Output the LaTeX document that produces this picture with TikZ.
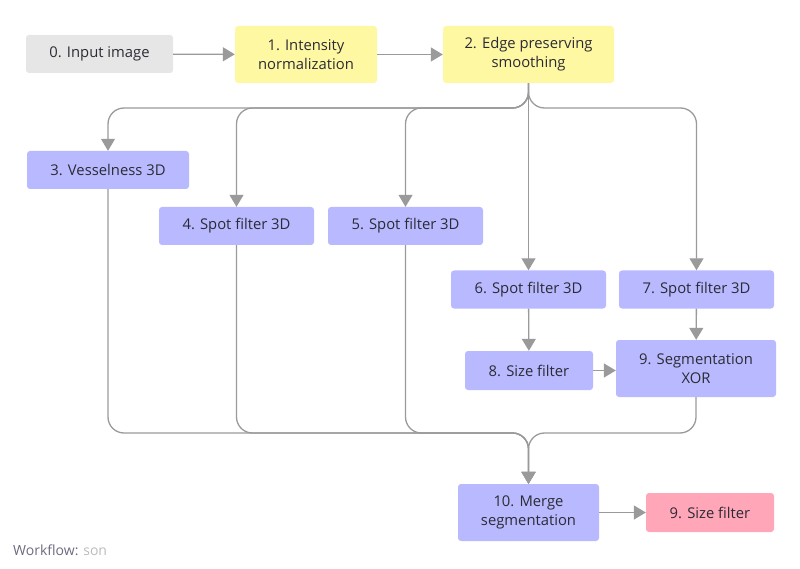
\documentclass[tikz,border=0pt]{standalone}
\usepackage{fontspec}
\setmainfont{Open Sans}
\usetikzlibrary{arrows.meta}
\definecolor{boxgray}{HTML}{E6E6E6}
\definecolor{boxyellow}{HTML}{FFF8A3}
\definecolor{boxblue}{HTML}{B9B9FF}
\definecolor{boxpink}{HTML}{FFA6B8}
\definecolor{linegray}{HTML}{9A9A9A}
\definecolor{txt}{HTML}{2B2B35}
\definecolor{wfgray}{HTML}{6E6A80}
\definecolor{songray}{HTML}{BBBBBB}
\tikzset{
  box/.style={rectangle, rounded corners=3pt, inner sep=0pt, align=center, text=txt,
    font=\fontsize{14.8}{19}\selectfont},
  small/.style={box, minimum width=155pt, minimum height=38pt},
  flow/.style={draw=linegray, line width=1.3pt, -{Triangle[width=14pt,length=12pt]},
    rounded corners=16pt},
}
\begin{document}
\begin{tikzpicture}[x=1pt,y=-1pt]
\useasboundingbox (0,0) rectangle (800,569);

\node[box, fill=boxgray, minimum width=147pt, minimum height=38pt] (n0) at (99.5,54) {0. Input image};
\node[box, fill=boxyellow, minimum width=142pt, minimum height=57pt] (n1) at (306,54.5) {1. Intensity\\normalization};
\node[box, fill=boxyellow, minimum width=171pt, minimum height=57pt] (n2) at (528.5,54.5) {2. Edge preserving\\smoothing};
\node[box, fill=boxblue, minimum width=162pt, minimum height=38pt] (n3) at (108,170) {3. Vesselness 3D};
\node[small, fill=boxblue] (n4) at (236.5,226) {4. Spot filter 3D};
\node[small, fill=boxblue] (n5) at (405.5,226) {5. Spot filter 3D};
\node[small, fill=boxblue] (n6) at (528.5,289.5) {6. Spot filter 3D};
\node[small, fill=boxblue] (n7) at (696.5,289.5) {7. Spot filter 3D};
\node[box, fill=boxblue, minimum width=128pt, minimum height=39pt] (n8) at (529,370.5) {8. Size filter};
\node[box, fill=boxblue, minimum width=160pt, minimum height=57pt] (n9) at (696,368.5) {9. Segmentation\\XOR};
\node[box, fill=boxblue, minimum width=141pt, minimum height=57pt] (n10) at (528.5,512.5) {10. Merge\\segmentation};
\node[box, fill=boxpink, minimum width=128pt, minimum height=39pt] (n11) at (710,512.5) {9. Size filter};

\coordinate (split) at (528.5,108);
\coordinate (join) at (528.5,433);

\draw[flow] (n0) -- (n1);
\draw[flow] (n1) -- (n2);
\draw[flow] (n2.south) -- (n6.north);
\foreach \n in {n3,n4,n5,n7}
{
  \draw[flow] (n2.south) -- (split) -| (\n.north);
}
\draw[flow] (n6) -- (n8);
\draw[flow] (n7) -- (n9);
\draw[flow] (n8) -- (n9.west |- n8);
\foreach \n in {n3,n4,n5,n9}
{
  \draw[flow] (\n.south) |- (join) -- (n10.north);
}
\draw[flow] (n10) -- (n11);

\node[anchor=west, inner sep=0pt, font=\fontsize{14}{16}\selectfont] (wf) at (13,550)
  {\textcolor{wfgray}{Workflow:} \textcolor{songray}{son}};

\end{tikzpicture}
\end{document}
